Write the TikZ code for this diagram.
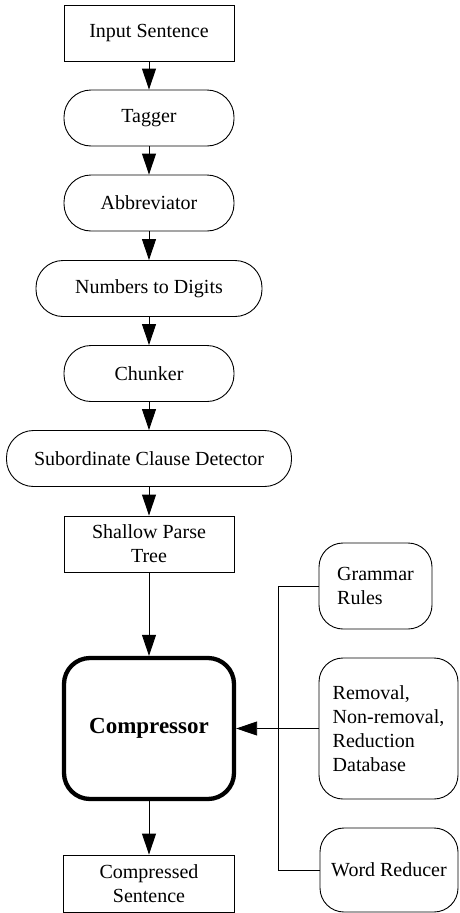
\documentclass[tikz,border=0pt]{standalone}
\usepackage{fontspec}
\setmainfont{Liberation Serif}
\usetikzlibrary{arrows.meta}
\begin{document}
\begin{tikzpicture}[x=1pt,y=-1pt,
  txt/.style={font=\fontsize{20}{24}\selectfont},
  sqbox/.style={draw,line width=0.9pt,inner sep=0pt,txt,align=center},
  pill/.style={draw,line width=0.9pt,inner sep=0pt,txt,align=center,rounded corners=27pt,minimum height=56pt},
  sidebox/.style={draw,line width=0.9pt,inner sep=0pt,txt,align=left,rounded corners=24pt},
  arr/.style={line width=0.9pt,-{Triangle[length=21pt,width=14pt]}},
  ln/.style={line width=0.9pt}]
\useasboundingbox (0,0) rectangle (459,913);
\node[sqbox,minimum width=170pt,minimum height=56pt] (in) at (149,33) {Input Sentence};
\node[pill,minimum width=170pt] (tag) at (149,118) {Tagger};
\node[pill,minimum width=170pt] (abb) at (149,203) {Abbreviator};
\node[pill,minimum width=226pt] (num) at (149,288.5) {Numbers to Digits};
\node[pill,minimum width=170pt] (chu) at (149,373.5) {Chunker};
\node[pill,minimum width=285pt] (sub) at (149,458.5) {Subordinate Clause Detector};
\node[sqbox,minimum width=170pt,minimum height=56pt] (spt) at (149,544) {Shallow Parse\\Tree};
\node[draw,line width=4.3pt,rounded corners=26pt,minimum width=170pt,minimum height=141pt,inner sep=0pt,font=\fontsize{23}{27}\selectfont\bfseries] (comp) at (149,728.5) {Compressor};
\node[sqbox,minimum width=171pt,minimum height=57pt] (cs) at (149,883.5) {Compressed\\Sentence};
\node[sidebox,minimum width=113pt,minimum height=86pt] (gr) at (375.5,586) {Grammar\\Rules};
\node[sidebox,minimum width=139pt,minimum height=141pt] (db) at (388.5,728.5) {Removal,\\Non-removal,\\Reduction\\Database};
\node[sidebox,minimum width=138pt,minimum height=84pt] (wr) at (389,870) {Word Reducer};
\coordinate (j) at (278,586);
\draw[arr] (in) -- (tag);
\draw[arr] (tag) -- (abb);
\draw[arr] (abb) -- (num);
\draw[arr] (num) -- (chu);
\draw[arr] (chu) -- (sub);
\draw[arr] (sub) -- (spt);
\draw[arr] (spt) -- (comp);
\draw[arr] (comp) -- (cs);
\draw[ln] (gr.west) -- (j) |- (wr.west);
\draw[arr] (db.west) -- (comp.east);
\end{tikzpicture}
\end{document}
